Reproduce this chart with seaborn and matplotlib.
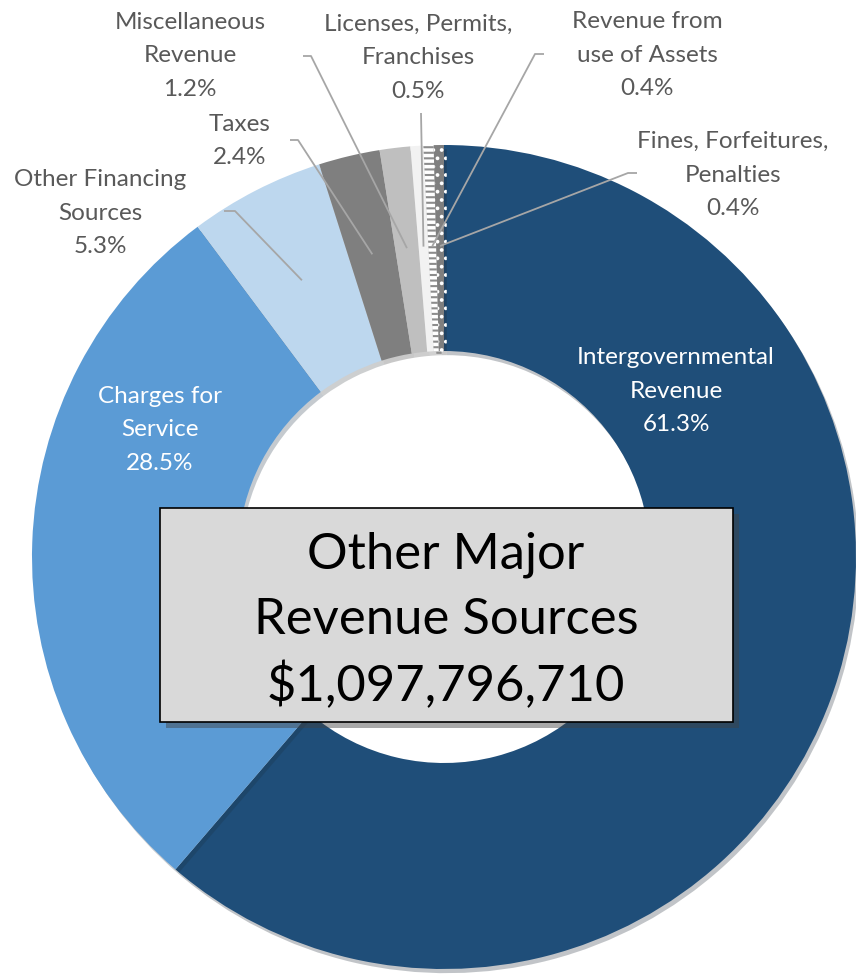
import numpy as np
import matplotlib
matplotlib.use("Agg")
import matplotlib.pyplot as plt
import seaborn as sns
from matplotlib.patches import Rectangle
import matplotlib.patheffects as pe

categories = ["Intergovernmental\nRevenue", "Charges for\nService", "Other Financing\nSources",
              "Taxes", "Miscellaneous\nRevenue", "Licenses, Permits,\nFranchises",
              "Revenue from\nuse of Assets", "Fines, Forfeitures,\nPenalties"]
shares = [61.3, 28.5, 5.3, 2.4, 1.2, 0.5, 0.4, 0.4]
pct_labels = ["61.3%", "28.5%", "5.3%", "2.4%", "1.2%", "0.5%", "0.4%", "0.4%"]
colors = ["#1f4e79", "#5b9bd5", "#bdd7ee", "#7f7f7f", "#bfbfbf", "#f2f2f2", "#ffffff", "#7f7f7f"]
hatches = [None, None, None, None, None, None, "---", ".."]
hatch_edge = [None, None, None, None, None, None, "#8c8c8c", "#ffffff"]
title_lines = ["Other Major", "Revenue Sources", "$1,097,796,710"]

sns.set_theme(style="white")
plt.rcParams['font.family'] = ['Lato', 'DejaVu Sans']
plt.rcParams['hatch.linewidth'] = 1.5

W, H = 856, 974
CX, CY, R = 444, 557, 412
fig = plt.figure(figsize=(W / 100, H / 100), dpi=100)
ax = fig.add_axes([0, 0, 1, 1])

def P(px, py):
    return ((px - CX) / R, (CY - py) / R)

wedges, _ = ax.pie(shares, colors=colors, startangle=90, counterclock=False,
                   radius=1.0, wedgeprops=dict(width=0.5, linewidth=0))
ax.set_xlim(-CX / R, (W - CX) / R)
ax.set_ylim((CY - H) / R, CY / R)
ax.set_aspect('equal')
ax.axis('off')

for w, h, ec in zip(wedges, hatches, hatch_edge):
    w.set_path_effects([pe.SimplePatchShadow(offset=(2, -3), alpha=0.25), pe.Normal()])
    if h:
        w.set_hatch(h)
        w.set_edgecolor(ec)
        w.set_linewidth(0)

def mid_point(w, r=0.755):
    a = np.deg2rad((w.theta1 + w.theta2) / 2)
    return r * np.cos(a), r * np.sin(a)

FS = 17.5
LS = 1.72
# Inside labels (white)
inside = {0: (676, 391), 1: (160, 430)}
for i, (px, py) in inside.items():
    x, y = P(px, py)
    ax.text(x, y, categories[i] + "\n" + pct_labels[i], ha='center', va='center',
            color='white', fontsize=FS, linespacing=LS)

# Outside labels with leader lines
label_pos = {2: (100, 213), 3: (240, 141), 4: (190, 56), 5: (418, 58),
             6: (647, 55), 7: (733, 175)}
leader_start = {2: [(224, 211), (235, 211)], 3: [(290, 140), (298, 140)],
                4: [(303, 56), (311, 56)], 5: [(421, 113)],
                6: [(544, 54), (535, 54)], 7: [(637, 173), (628, 173)]}
lc = "#a6a6a6"
for i, (px, py) in label_pos.items():
    x, y = P(px, py)
    ax.text(x, y, categories[i] + "\n" + pct_labels[i], ha='center', va='center',
            color='#595959', fontsize=FS, linespacing=LS)
    pts = [P(*p) for p in leader_start[i]] + [mid_point(wedges[i])]
    xs, ys = zip(*pts)
    ax.plot(xs, ys, color=lc, lw=1.3, solid_capstyle='butt', zorder=5)

# Center box
x0, y0 = P(160, 722)
x1, y1 = P(733, 508)
box = Rectangle((x0, y0), x1 - x0, y1 - y0, facecolor='#d9d9d9', edgecolor='black',
                lw=1.2, zorder=6)
box.set_path_effects([pe.SimplePatchShadow(offset=(4, -4), alpha=0.45), pe.Normal()])
ax.add_patch(box)
for line, py in zip(title_lines, [555, 620, 686]):
    x, y = P(446, py)
    ax.text(x, y, line, ha='center', va='center', fontsize=36.5, color='black', zorder=7)

fig.savefig("out.png", dpi=100)
